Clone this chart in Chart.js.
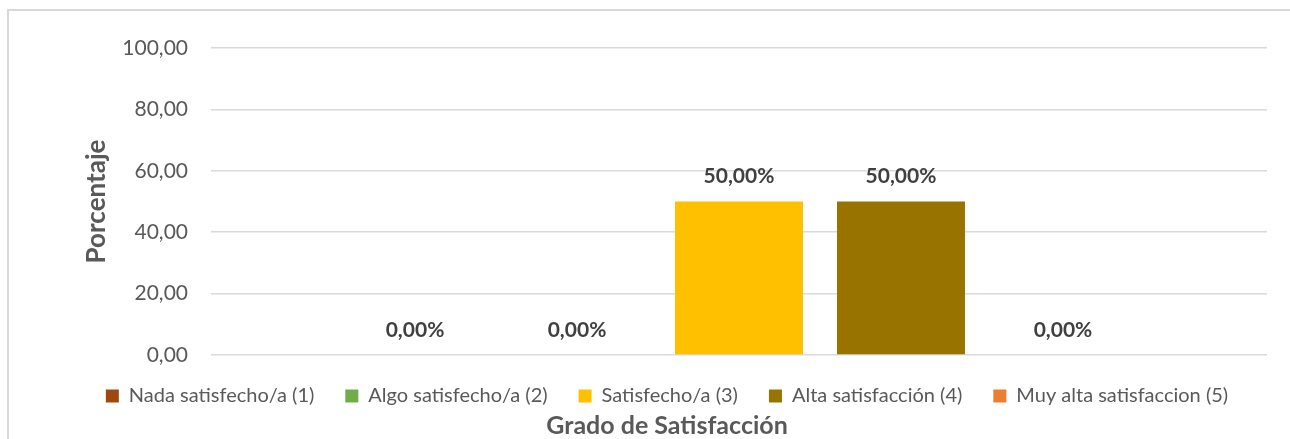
<!DOCTYPE html>
<html>
<head>
<meta charset="utf-8">
<script src="https://cdn.jsdelivr.net/npm/chart.js@4"></script>
<style>
  html, body { margin: 0; padding: 0; background: #fff; overflow: hidden; }
  .frame { position: absolute; left: 7px; top: 9px; width: 1320px; height: 460px; border: 2px solid #d9d9d9; }
  #chart { position: absolute; left: 0; top: 0; }
</style>
</head>
<body>
<div class="frame"></div>
<canvas id="chart" width="1290" height="439"></canvas>
<script>
// ===== Datos =====
const categories = ['Nada satisfecho/a (1)', 'Algo satisfecho/a (2)', 'Satisfecho/a (3)', 'Alta satisfacción (4)', 'Muy alta satisfaccion (5)'];
const values = [0, 0, 50, 50, 0];
const colors = ['#9E480E', '#70AD47', '#FFC000', '#997300', '#ED7D31'];
const yTicks = [0, 20, 40, 60, 80, 100];

const fmt = (v, d=2) => v.toFixed(d).replace('.', ',');
const FONT = 'Lato, "Open Sans", sans-serif';

// etiquetas de datos encima de cada barra
const barLabels = {
  id: 'barLabels',
  afterDatasetsDraw(chart) {
    const ctx = chart.ctx;
    ctx.save();
    ctx.font = `bold 21px ${FONT}`;
    ctx.fillStyle = '#404040';
    ctx.textAlign = 'center';
    ctx.textBaseline = 'middle';
    chart.data.datasets.forEach((ds, i) => {
      const bar = chart.getDatasetMeta(i).data[0];
      if (!bar) return;
      ctx.fillText(fmt(ds.data[0]) + '%', bar.x, bar.y - 25);
    });
    ctx.restore();
  }
};

new Chart(document.getElementById('chart').getContext('2d'), {
  type: 'bar',
  data: {
    labels: [''],
    datasets: categories.map((c, i) => ({
      label: c,
      data: [values[i]],
      backgroundColor: colors[i],
      borderWidth: 0,
      categoryPercentage: 0.767,
      barPercentage: 0.79
    }))
  },
  options: {
    responsive: false,
    animation: false,
    layout: { padding: { left: 67, right: 23, top: 48, bottom: 0 } },
    plugins: {
      legend: {
        position: 'bottom',
        maxHeight: 56,
        labels: {
          boxWidth: 13, boxHeight: 13, padding: 31,
          color: '#595959',
          font: { family: FONT, size: 20 }
        }
      },
      title: {
        display: true,
        position: 'bottom',
        text: 'Grado de Satisfacción',
        color: '#595959',
        font: { family: FONT, size: 25, weight: 'bold' },
        padding: { top: 0, bottom: -2 }
      },
      tooltip: { enabled: false }
    },
    scales: {
      x: {
        ticks: { display: false },
        grid: { display: false, drawTicks: false },
        border: { display: false }
      },
      y: {
        min: 0, max: 100,
        afterBuildTicks: s => { s.ticks = yTicks.map(v => ({ value: v })); },
        afterFit: s => { s.width = 144; },
        ticks: {
          padding: 23,
          color: '#595959',
          font: { family: FONT, size: 21 },
          callback: v => fmt(v)
        },
        grid: { color: '#d9d9d9', lineWidth: 1.5, drawTicks: false },
        border: { display: false },
        title: {
          display: true,
          text: 'Porcentaje',
          color: '#595959',
          font: { family: FONT, size: 26, weight: 'bold' },
          padding: { top: 14, bottom: 0 }
        }
      }
    }
  },
  plugins: [barLabels]
});
</script>
</body>
</html>
